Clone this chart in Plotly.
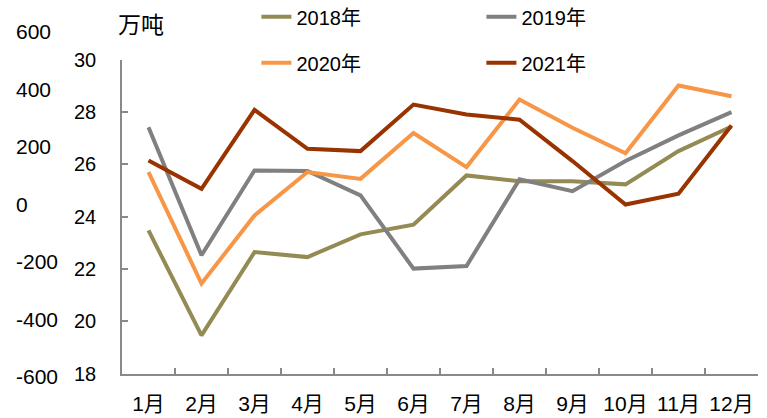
import plotly.graph_objects as go

months = ["1月", "2月", "3月", "4月", "5月", "6月", "7月", "8月", "9月", "10月", "11月", "12月"]
y2018 = [23.48, 19.47, 22.65, 22.46, 23.33, 23.70, 25.58, 25.36, 25.36, 25.24, 26.51, 27.45]
y2019 = [27.42, 22.53, 25.77, 25.75, 24.82, 22.02, 22.12, 25.43, 24.98, 26.13, 27.11, 28.00]
y2020 = [25.71, 21.45, 24.05, 25.71, 25.45, 27.20, 25.90, 28.48, 27.40, 26.43, 29.02, 28.61]
y2021 = [26.15, 25.07, 28.09, 26.60, 26.51, 28.29, 27.91, 27.71, 26.13, 24.47, 24.88, 27.49]
series_names = ["2018年", "2019年", "2020年", "2021年"]
colors = ["#948A54", "#808080", "#F79646", "#993300"]
outer_ticks = [-600, -400, -200, 0, 200, 400, 600]
outer_tick_text = ["-600", "-400", "-200", "0", "200", "400", "600"]
unit_label = "万吨"

W, H = 767, 418
ml, mr, mt, mb = 5, 9, 31.7, 41.3
pw = W - ml - mr
ph = H - mt - mb
plot_left = 122
plot_top, plot_bottom = 59.5, 373.5

FONT = "Liberation Sans, Noto Sans CJK SC, sans-serif"
FS = 20

fig = go.Figure()
legends = ["legend", "legend2", "legend", "legend2"]
for i, (name, ys) in enumerate(zip(series_names, [y2018, y2019, y2020, y2021])):
    fig.add_trace(go.Scatter(
        x=months, y=ys, name=name, mode="lines",
        line=dict(color=colors[i], width=4),
        legend=legends[i], legendgroup=name,
        xaxis="x", yaxis="y",
    ))

# dummy trace carrying the outer left axis
fig.add_trace(go.Scatter(x=[0, 1], y=[outer_ticks[0], outer_ticks[-1]], mode="markers",
                         marker=dict(opacity=0), showlegend=False, hoverinfo="skip",
                         xaxis="x2", yaxis="y2"))

def px_x(p):
    return (p - ml) / pw

def px_y(p):
    return (H - mb - p) / ph

axis_color = "#898989"
legend_top = px_y(-3)
fig.update_layout(
    width=W, height=H,
    margin=dict(l=ml, r=mr, t=mt, b=mb, autoexpand=False),
    paper_bgcolor="white", plot_bgcolor="white",
    font=dict(family=FONT, size=FS, color="#000000"),
    xaxis=dict(
        domain=[px_x(plot_left), 1], anchor="y",
        type="category", showgrid=False, zeroline=False,
        showline=True, linecolor=axis_color, linewidth=1.5,
        ticks="inside", tickson="boundaries", ticklen=6, tickcolor=axis_color, tickwidth=1.5,
        ticklabelstandoff=10, tickfont=dict(size=21), tickangle=0,
        range=[-0.5, 11.5],
    ),
    yaxis=dict(
        domain=[px_y(plot_bottom), px_y(plot_top)], anchor="x",
        range=[18, 30], dtick=2, showgrid=False, zeroline=False,
        showline=True, linecolor=axis_color, linewidth=1.5,
        ticks="inside", ticklen=6, tickcolor=axis_color, tickwidth=1.5,
        ticklabelstandoff=20, tickfont=dict(size=FS),
    ),
    xaxis2=dict(domain=[0, 0.01], anchor="y2", visible=False, range=[0, 1]),
    yaxis2=dict(
        domain=[0, 1], anchor="free", position=0, side="right",
        range=[-600, 600], tickvals=outer_ticks, ticktext=outer_tick_text,
        showgrid=False, zeroline=False, ticklabelstandoff=10,
        showline=False, ticks="", tickfont=dict(size=21),
    ),
    legend=dict(x=px_x(256.4), y=legend_top, xanchor="left", yanchor="top", orientation="v",
                traceorder="grouped", tracegroupgap=17,
                bgcolor="rgba(0,0,0,0)", font=dict(size=FS)),
    legend2=dict(x=px_x(481.4), y=legend_top, xanchor="left", yanchor="top", orientation="v",
                 traceorder="grouped", tracegroupgap=17,
                 bgcolor="rgba(0,0,0,0)", font=dict(size=FS)),
    annotations=[dict(text=unit_label, xref="paper", yref="paper",
                      x=px_x(116), y=px_y(25), xanchor="left", yanchor="middle",
                      showarrow=False, font=dict(size=23))],
    showlegend=True,
)

fig.write_html("out.html", config={"displayModeBar": False},
               post_script="document.body.style.margin='0';document.body.style.overflow='hidden';")
